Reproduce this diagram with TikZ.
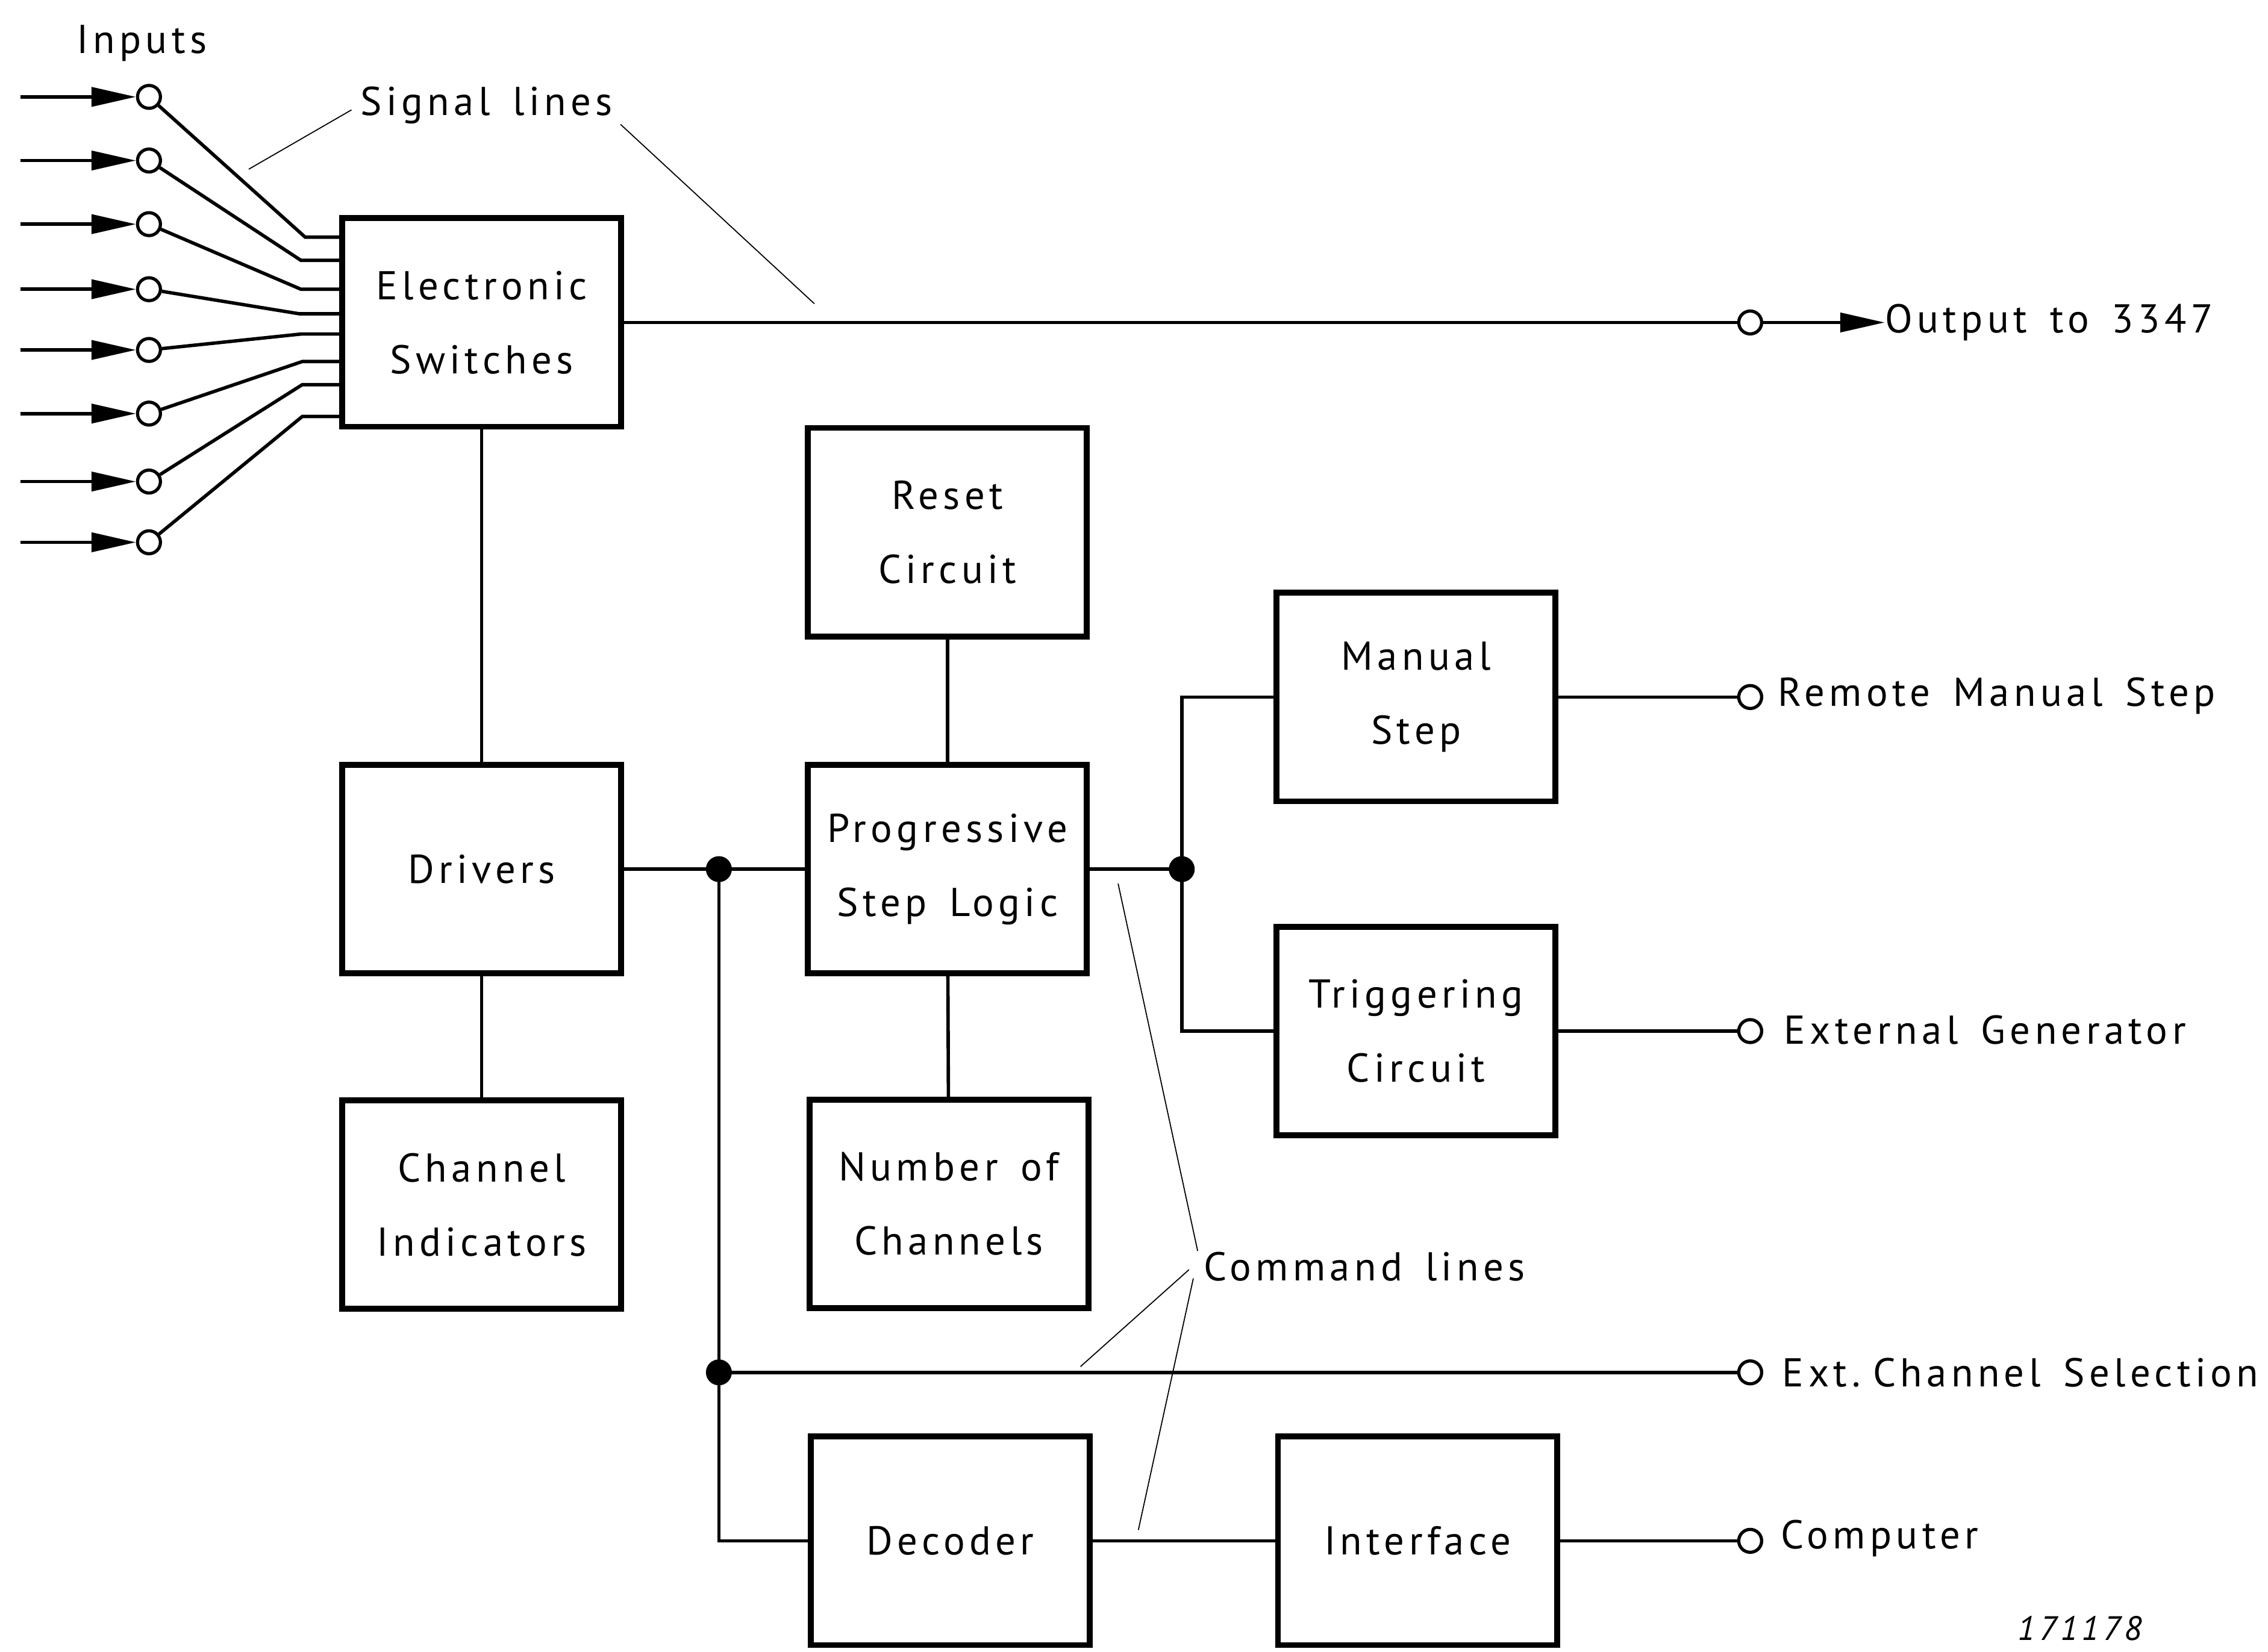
\documentclass[tikz,border=0pt]{standalone}
\usepackage{fontspec}
\setmainfont{PT Sans}[LetterSpace=11,WordSpace=1.5]
\usetikzlibrary{arrows.meta}
\begin{document}
\begin{tikzpicture}[x=0.024cm,y=-0.024cm,
  blk/.style={draw,line width=2.8pt,minimum width=4.63cm,minimum height=3.46cm,
    inner sep=0pt,align=center,font=\fontsize{19}{35}\selectfont},
  wire/.style={line width=1.6pt},
  lead/.style={line width=0.5pt},
  term/.style={circle,draw,line width=1.5pt,fill=white,minimum size=0.38cm,inner sep=0pt},
  dotj/.style={circle,fill=black,minimum size=0.43cm,inner sep=0pt},
  lbl/.style={font=\fontsize{19}{22}\selectfont,inner sep=0pt},
  tip/.style={-{Triangle[length=21pt,width=9pt]}}
]
\useasboundingbox (0,0) rectangle (1568,1142);

% function blocks
\node[blk] (es)  at (333,223)    {Electronic\\Switches};
\node[blk] (drv) at (333,601)    {Drivers};
\node[blk] (ci)  at (333,833)    {Channel\\Indicators};
\node[blk] (rst) at (655,368)    {Reset\\Circuit};
\node[blk] (psl) at (655,601)    {Progressive\\Step Logic};
\node[blk] (noc) at (656,832.5)  {Number of\\Channels};
\node[blk] (ms)  at (979,482)    {Manual\\Step};
\node[blk] (tc)  at (979,713)    {Triggering\\Circuit};
\node[blk] (dec) at (657,1065.5) {Decoder};
\node[blk] (ifc) at (980,1065.5) {Interface};

% signal inputs into the electronic switches
\node[lbl] (inlbl) at (98,30) {Inputs};
\foreach \i/\yc/\xs/\ys in {1/67/211/164, 2/111/208/180, 3/155/208/200, 4/200/207/217,
                            5/242/208/231, 6/286/209/250, 7/333/209/266, 8/375/209/288} {
  \coordinate (src\i) at (14,\yc);
  \node[term] (in\i) at (103,\yc) {};
  \coordinate (bend\i) at (\xs,\ys);
  \draw[wire,tip] (src\i) -- (in\i);
  \draw[wire] (in\i) -- (bend\i) -- (bend\i -| es.west);
}

% signal output
\node[term] (out) at (1210,223) {};
\node[lbl,anchor=west] (outlbl) at (1303,223) {Output to 3347};
\draw[wire] (es.east) -- (out);
\draw[wire,tip] (out) -- (outlbl.west);

% output terminals
\node[term] (rms)  at (1210,482)    {};
\node[term] (extg) at (1210,713)    {};
\node[term] (ecs)  at (1210,949)    {};
\node[term] (comp) at (1210,1065.5) {};
\node[lbl,anchor=west] (rmsl)  at (1229,481)  {Remote Manual Step};
\node[lbl,anchor=west] (extgl) at (1233,712)  {External Generator};
\node[lbl,anchor=west] (ecsl)  at (1232,949)  {Ext.\hspace{0.3em}Channel Selection};
\node[lbl,anchor=west] (compl) at (1231,1064) {Computer};

% junction points
\node[dotj] (j1) at (497,601) {};
\node[dotj] (j2) at (497,949) {};
\node[dotj] (j3) at (817,601) {};

% control wiring
\draw[wire] (es) -- (drv);
\draw[wire] (drv) -- (ci);
\draw[wire] (rst) -- (psl);
\draw[wire] (psl) -- (noc);
\draw[wire] (drv.east) -- (psl.west);
\draw[wire] (j1.center) -- (j2.center) |- (dec.west);
\draw[wire] (j2.center) -- (ecs);
\draw[wire] (psl.east) -- (j3.center);
\draw[wire] (ms.west) -| (j3.center) |- (tc.west);
\draw[wire] (ms) -- (rms);
\draw[wire] (tc) -- (extg);
\draw[wire] (dec) -- (ifc);
\draw[wire] (ifc) -- (comp);

% callouts
\node[lbl,anchor=west] (sig) at (249,73) {Signal lines};
\node[lbl,anchor=west] (cmd) at (832,876) {Command lines};
\coordinate (sigA) at (172,117);
\coordinate (sigB) at (563,210);
\coordinate (cmdA) at (773,611);
\coordinate (cmdB) at (747,945);
\coordinate (cmdC) at (787,1058);
\draw[lead] (243,76) -- (sigA);
\draw[lead] (429,86) -- (sigB);
\draw[lead] (828,865) -- (cmdA);
\draw[lead] (822,878) -- (cmdB);
\draw[lead] (825,884) -- (cmdC);

\node[font=\fontsize{16}{18}\selectfont\itshape,inner sep=0pt] (ref) at (1438,1126) {171178};
\end{tikzpicture}
\end{document}
